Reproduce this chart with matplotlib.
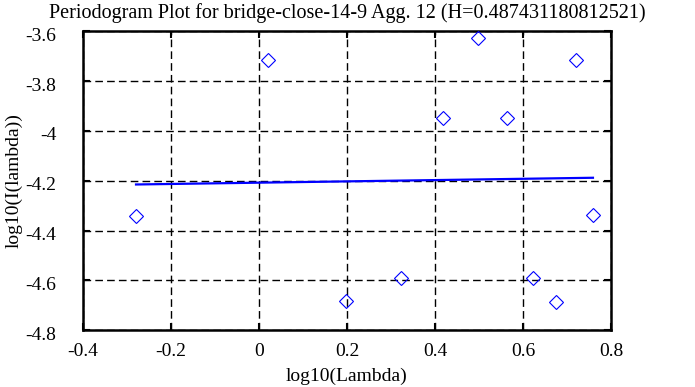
import matplotlib
matplotlib.use('Agg')
import matplotlib.pyplot as plt
import matplotlib.transforms as mtransforms

# periodogram points (log10 lambda, log10 I(lambda))
log_lambda = [-0.2795, 0.0205, 0.197, 0.322, 0.418, 0.498, 0.5636, 0.6227, 0.674, 0.7198, 0.759]
log_I = [-4.340, -3.715, -4.685, -4.592, -3.948, -3.628, -3.948, -4.592, -4.687, -3.716, -4.339]

# least squares fit line endpoints
fit_x = [-0.2795, 0.759]
fit_y = [-4.215, -4.188]

title = 'Periodogram Plot for bridge-close-14-9 Agg. 12 (H=0.487431180812521)'
xticks = [-0.4, -0.2, 0, 0.2, 0.4, 0.6, 0.8]
yticks = [-4.8, -4.6, -4.4, -4.2, -4, -3.8, -3.6]

plt.rcParams['font.family'] = ['Liberation Serif', 'DejaVu Serif']
plt.rcParams['lines.scale_dashes'] = False

fig = plt.figure(figsize=(6.95, 3.87), dpi=100)
ax = fig.add_axes([83 / 695, 1 - 330 / 387, 528 / 695, 298.5 / 387])

ax.plot(log_lambda, log_I, linestyle='none', marker='D', markersize=7.5,
        markerfacecolor='none', markeredgecolor='#0000ff', markeredgewidth=0.8, zorder=3)
ax.plot(fit_x, fit_y, color='#0000ff', linewidth=1.6, zorder=2)

ax.set_xlim(-0.4, 0.8)
ax.set_ylim(-4.8, -3.6)
ax.set_xticks(xticks)
ax.set_yticks(yticks)
ax.set_xticklabels(['-0.4', '-0.2', '0', '0.2', '0.4', '0.6', '0.8'])
ax.set_yticklabels(['-4.8', '-4.6', '-4.4', '-4.2', '-4', '-3.8', '-3.6'])
ax.tick_params(direction='in', length=5, width=1.5, top=True, right=True,
               labelsize=14, colors='black')
ax.tick_params(axis='x', pad=9)
ax.tick_params(axis='y', pad=19)

# y labels sit a little below their ticks in the original
off = mtransforms.ScaledTranslation(0, -3 / 100, fig.dpi_scale_trans)
for lab in ax.get_yticklabels():
    lab.set_transform(lab.get_transform() + off)

ax.grid(True, color='black', linestyle=(0, (5.5, 3)), linewidth=1.0)
for s in ax.spines.values():
    s.set_linewidth(1.8)

ax.set_title(title, fontsize=14.5, pad=10)
ax.set_xlabel('log10(Lambda)', fontsize=14, labelpad=6)
ax.set_ylabel('log10(I(lambda))', fontsize=14, labelpad=2)

fig.savefig('out.png', dpi=100)
plt.close()
